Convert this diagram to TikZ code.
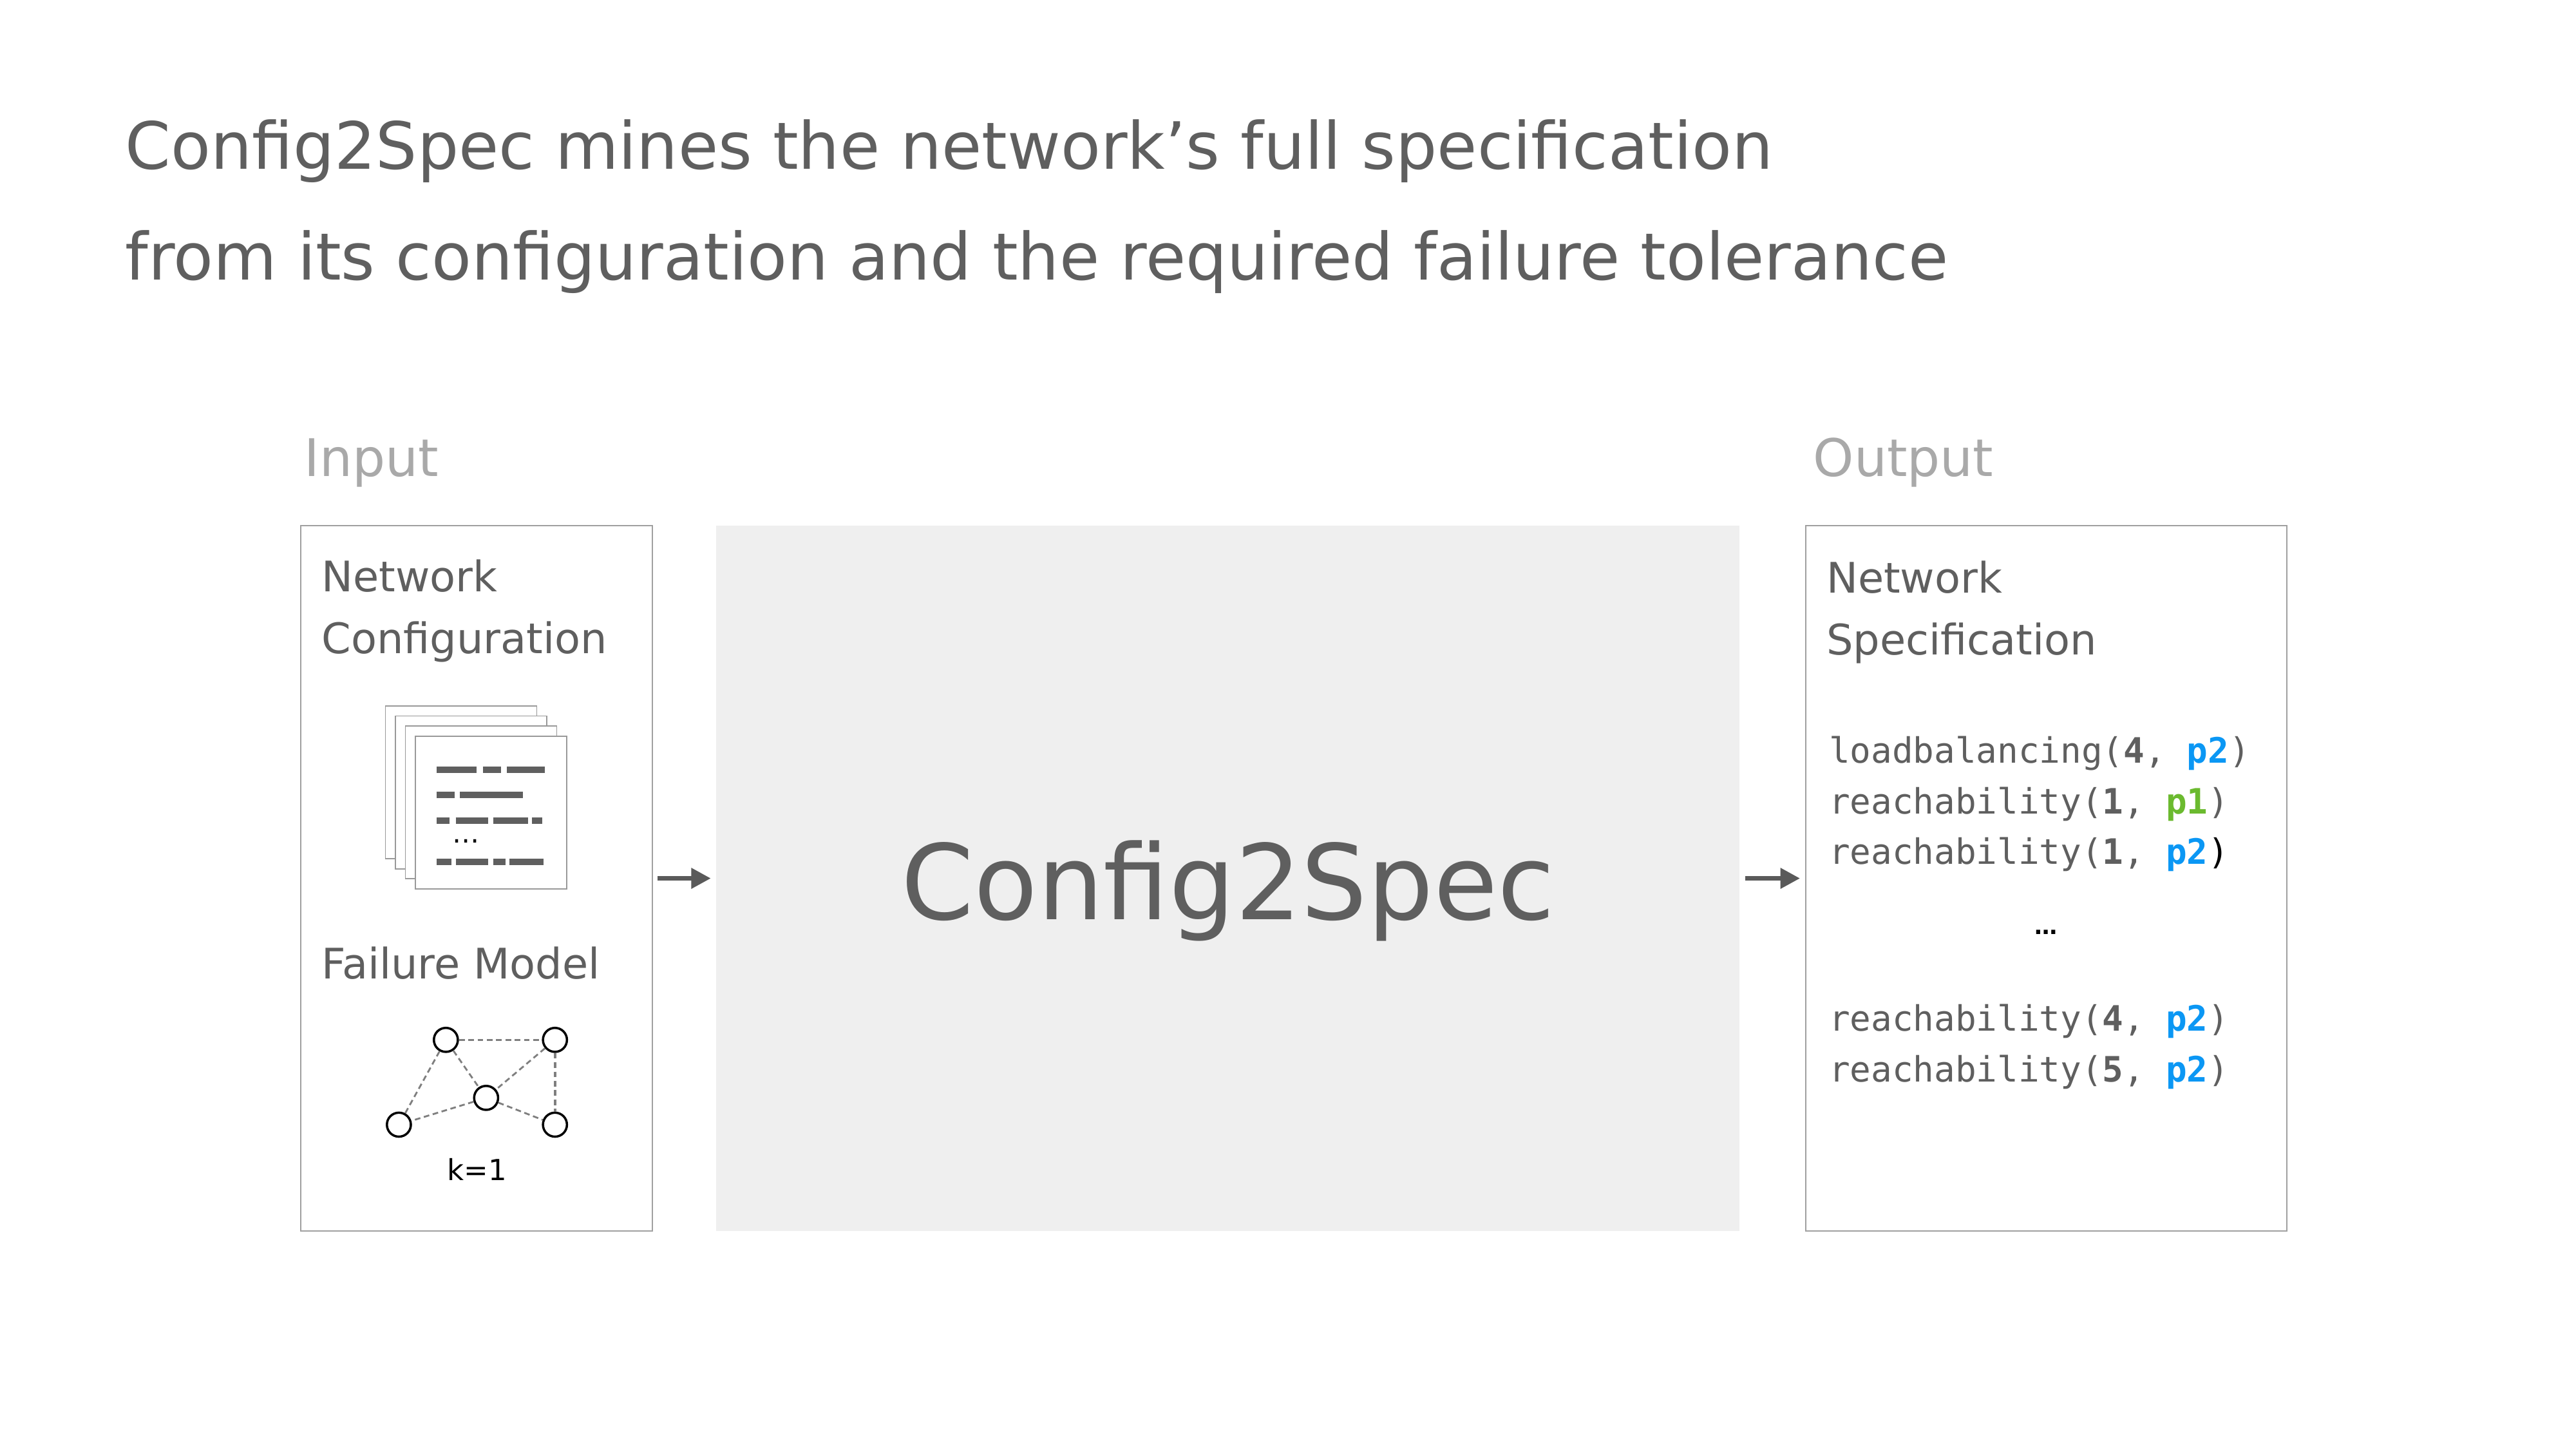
\documentclass[tikz,border=0pt]{standalone}
\usepackage{fontspec}
\setmainfont{DejaVu Sans}
\setmonofont{DejaVu Sans Mono}
\usetikzlibrary{arrows.meta}

\definecolor{txtgray}{HTML}{5F5F5F}
\definecolor{lblgray}{HTML}{A9A9A9}
\definecolor{boxgray}{HTML}{A0A0A0}
\definecolor{fillgray}{HTML}{EFEFEF}
\definecolor{arrowgray}{HTML}{5A5A5A}
\definecolor{pagegray}{HTML}{999999}
\definecolor{linkgray}{HTML}{7F7F7F}
\definecolor{specblue}{HTML}{0B97F4}
\definecolor{specgreen}{HTML}{6BBA2F}

\newcommand{\pblue}[1]{\textcolor{specblue}{\textbf{#1}}}
\newcommand{\pgreen}[1]{\textcolor{specgreen}{\textbf{#1}}}

\begin{document}
\begin{tikzpicture}[x=0.02551cm, y=-0.02551cm,
    panel/.style={draw=boxgray, line width=0.6pt, inner sep=0pt, outer sep=0pt, minimum height=311.4pt},
    core/.style={fill=fillgray, inner sep=0pt, outer sep=0pt, minimum width=452.2pt, minimum height=311.4pt},
    heading/.style={anchor=base west, inner sep=0pt, text=txtgray, font=\fontsize{18.6}{22}\selectfont},
    iolabel/.style={anchor=base west, inner sep=0pt, text=lblgray, font=\fontsize{22.9}{27}\selectfont},
    title/.style={anchor=base west, inner sep=0pt, text=txtgray, font=\fontsize{28.8}{35}\selectfont},
    spec/.style={anchor=base west, inner sep=0pt, text=txtgray, font=\ttfamily\fontsize{15.45}{18}\selectfont},
    flow/.style={draw=arrowgray, line width=2.2pt, -{Triangle[length=8.7pt,width=8.7pt]}, shorten <=2.4pt, shorten >=2.4pt},
    page/.style={draw=pagegray, fill=white, line width=0.5pt},
    bar/.style={draw=txtgray, line width=2.9pt},
    router/.style={circle, draw=black, fill=white, line width=1pt, minimum size=10.6pt, inner sep=0pt},
    link/.style={draw=linkgray, line width=0.8pt, dash pattern=on 2.5pt off 1.6pt}]
   \fill[white] (0,0) rectangle (1568,882);
   \useasboundingbox (0,0) rectangle (1568,882);

   \node[title] (title1) at (76,103) {Config2Spec mines the network’s full specification};
   \node[title] (title2) at (76,170.5) {from its configuration and the required failure tolerance};

   \node[iolabel] (inlabel) at (185,289.8) {Input};
   \node[iolabel] (outlabel) at (1103.5,289.8) {Output};

   \node[panel, minimum width=155.3pt] (inbox) at (290,534.5) {};
   \node[core] (engine) at (747.5,534.5) {};
   \node[panel, minimum width=212.7pt] (outbox) at (1245.5,534.5) {};
   \node[anchor=base, inner sep=0pt, text=txtgray, font=\fontsize{46}{55}\selectfont] (enginename) at (747.5,559.6) {Config2Spec};

   \draw[flow] (inbox) -- (engine);
   \draw[flow] (engine) -- (outbox);

   % input side
   \node[heading] (cfghead1) at (195.5,360) {Network};
   \node[heading] (cfghead2) at (195.5,397.5) {Configuration};
   \foreach \i in {0,...,3}
      \draw[page] ({234.6+6.1*\i},{429.6+6.1*\i}) rectangle +(92.1,93);
   \foreach \y/\a/\b in {468.4/265.9/289.9, 468.4/293.9/305, 468.4/308.6/331.8,
                         483.6/265.9/276.8, 483.6/279.8/318.2,
                         499.4/265.9/273.8, 499.4/277.4/297.2, 499.4/300.2/321.5, 499.4/323.9/329.9,
                         524.6/265.9/274.9, 524.6/277.4/297.2, 524.6/300.2/307.7, 524.6/310.1/330.8}
      \draw[bar] (\a,\y) -- (\b,\y);
   \node[anchor=base, inner sep=0pt, font=\fontsize{12}{14}\selectfont] (cfgdots) at (283.8,513) {…};

   \node[heading] (failhead) at (195.5,595.5) {Failure Model};
   \node[router] (r1) at (271.4,632.8) {};
   \node[router] (r2) at (337.8,632.8) {};
   \node[router] (r3) at (295.9,668.1) {};
   \node[router] (r4) at (242.8,684.4) {};
   \node[router] (r5) at (337.8,684.4) {};
   \draw[link] (r1) -- (r2);
   \draw[link] (r1) -- (r3);
   \draw[link] (r1) -- (r4);
   \draw[link] (r2) -- (r3);
   \draw[link, line width=1.2pt] (r2) -- (r5);
   \draw[link] (r3) -- (r4);
   \draw[link] (r3) -- (r5);
   \node[inner sep=0pt, font=\fontsize{12.8}{15}\selectfont] (kval) at (290.3,711.7) {k=1};

   % output side
   \node[heading] (spechead1) at (1111.5,361) {Network};
   \node[heading] (spechead2) at (1111.5,398.5) {Specification};
   \node[spec] (s1) at (1113,464.2) {loadbalancing(\textbf{4}, \pblue{p2})};
   \node[spec] (s2) at (1113,495.3) {reachability(\textbf{1}, \pgreen{p1})};
   \node[spec] (s3) at (1113,526) {reachability(\textbf{1}, \pblue{p2}\textcolor{black}{)}};
   \node[anchor=base, inner sep=0pt, font=\bfseries\fontsize{10}{12}\selectfont] (specdots) at (1245.5,568.5) {…};
   \node[spec] (s4) at (1113,627.4) {reachability(\textbf{4}, \pblue{p2})};
   \node[spec] (s5) at (1113,658.2) {reachability(\textbf{5}, \pblue{p2})};
\end{tikzpicture}
\end{document}
